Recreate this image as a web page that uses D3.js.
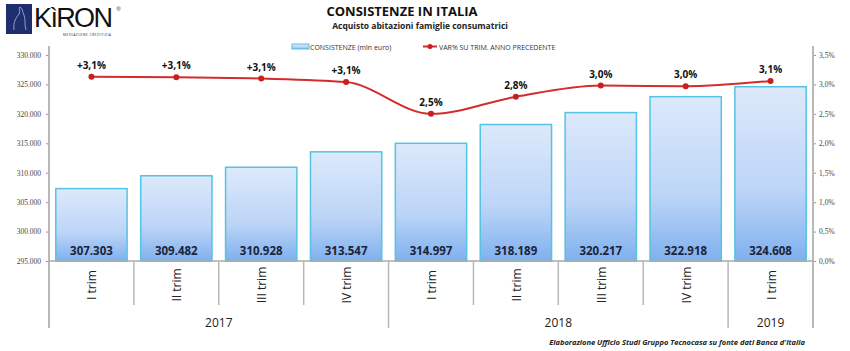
<!DOCTYPE html>
<html>
<head>
<meta charset="utf-8">
<script src="https://cdn.jsdelivr.net/npm/d3@7"></script>
<style>
  body { margin: 0; background: #fff; }
  svg { display: block; font-family: "Open Sans", "Liberation Sans", sans-serif; }
</style>
</head>
<body>
<div id="grafico"></div>
<script>
// dati
const trimestri = ["I trim", "II trim", "III trim", "IV trim", "I trim", "II trim", "III trim", "IV trim", "I trim"];
const anni = ["2017", "2017", "2017", "2017", "2018", "2018", "2018", "2018", "2019"];
const consistenze = [307303, 309482, 310928, 313547, 314997, 318189, 320217, 322918, 324608];
const etichetteConsistenze = ["307.303", "309.482", "310.928", "313.547", "314.997", "318.189", "320.217", "322.918", "324.608"];
const variazioni = [3.13, 3.12, 3.10, 3.04, 2.50, 2.79, 2.98, 2.97, 3.06];
const etichetteVariazioni = ["+3,1%", "+3,1%", "+3,1%", "+3,1%", "2,5%", "2,8%", "3,0%", "3,0%", "3,1%"];
const tickSinistra = [295000, 300000, 305000, 310000, 315000, 320000, 325000, 330000];
const tickDestra = [0, 0.5, 1, 1.5, 2, 2.5, 3, 3.5];

const dim = { sirina: 850, visina: 351, left: 49, right: 813, top: 55, bottom: 261 };

const svg = d3.select("#grafico").append("svg")
  .attr("width", dim.sirina)
  .attr("height", dim.visina);

const x = d3.scaleBand()
  .domain(d3.range(consistenze.length))
  .range([dim.left, dim.right])
  .paddingInner(0.16)
  .paddingOuter(0.08);
const passo = x.step();

const yL = d3.scaleLinear().domain([295000, 330000]).range([dim.bottom, dim.top]);
const yR = d3.scaleLinear().domain([0, 3.5]).range([dim.bottom, dim.top]);

// gradijent stupaca
const defs = svg.append("defs");
const grad = defs.append("linearGradient")
  .attr("id", "gradStupac")
  .attr("x1", 0).attr("y1", 0).attr("x2", 0).attr("y2", 1);
grad.append("stop").attr("offset", "0%").attr("stop-color", "#dde9fb");
grad.append("stop").attr("offset", "60%").attr("stop-color", "#bcd5f7");
grad.append("stop").attr("offset", "100%").attr("stop-color", "#7fb0ee");

// stupci
svg.append("g").selectAll("rect")
  .data(consistenze)
  .enter().append("rect")
  .attr("x", (d, i) => x(i))
  .attr("y", d => yL(d))
  .attr("width", x.bandwidth())
  .attr("height", d => yL(295000) - yL(d))
  .attr("fill", "url(#gradStupac)")
  .attr("stroke", "#55c3e3")
  .attr("stroke-width", 1.5);

svg.append("g").selectAll("text")
  .data(etichetteConsistenze)
  .enter().append("text")
  .attr("x", (d, i) => x(i) + x.bandwidth() / 2)
  .attr("y", dim.bottom - 6)
  .attr("text-anchor", "middle")
  .attr("font-size", 11.5)
  .attr("font-weight", "bold")
  .attr("fill", "#1b2438")
  .text(d => d);

// osi
const osL = svg.append("g")
  .attr("transform", `translate(${dim.left},0)`)
  .call(d3.axisLeft(yL).tickValues(tickSinistra).tickSize(3).tickSizeOuter(0)
    .tickFormat(d => d3.format(",")(d).replace(/,/g, ".")));
osL.select(".domain").remove();
osL.selectAll("line").attr("stroke", "#999");
osL.selectAll("text")
  .attr("font-family", "'Liberation Serif', serif")
  .attr("font-size", 7.5)
  .attr("fill", "#444")
  .attr("x", -8);

const osR = svg.append("g")
  .attr("transform", `translate(${dim.right},0)`)
  .call(d3.axisRight(yR).tickValues(tickDestra).tickSize(3).tickSizeOuter(0)
    .tickFormat(d => d3.format(".1f")(d).replace(".", ",") + "%"));
osR.select(".domain").remove();
osR.selectAll("line").attr("stroke", "#999");
osR.selectAll("text")
  .attr("font-family", "'Liberation Serif', serif")
  .attr("font-size", 7.5)
  .attr("fill", "#444")
  .attr("x", 6);

// linee osi e separatori
const linije = svg.append("g").attr("stroke", "#b8b8b8").attr("stroke-width", 2);
linije.append("line").attr("x1", dim.left).attr("x2", dim.left).attr("y1", 46).attr("y2", 328);
linije.append("line").attr("x1", dim.right).attr("x2", dim.right).attr("y1", 46).attr("y2", 328);
linije.append("line").attr("x1", dim.left).attr("x2", dim.right).attr("y1", dim.bottom).attr("y2", dim.bottom)
  .attr("stroke", "#aaa").attr("stroke-width", 1.5);

d3.range(1, consistenze.length).forEach(i => {
  const nova = anni[i] !== anni[i - 1];
  const xs = dim.left + passo * (i + x.paddingOuter()) - passo * x.paddingInner() / 2;
  linije.append("line")
    .attr("x1", xs).attr("x2", xs)
    .attr("y1", dim.bottom).attr("y2", nova ? 328 : 305)
    .attr("stroke-width", 1.5);
});

// etichette kategorija
svg.append("g").selectAll("text")
  .data(trimestri)
  .enter().append("text")
  .attr("transform", (d, i) => `translate(${x(i) + x.bandwidth() / 2 + 5},285) rotate(-90)`)
  .attr("text-anchor", "middle")
  .attr("font-size", 12)
  .attr("fill", "#222")
  .text(d => d);

const skupine = d3.groups(anni.map((a, i) => ({ a, i })), d => d.a);
svg.append("g").selectAll("text")
  .data(skupine)
  .enter().append("text")
  .attr("x", d => {
    const prvi = d[1][0].i, zadnji = d[1][d[1].length - 1].i;
    return (x(prvi) + x(zadnji) + x.bandwidth()) / 2;
  })
  .attr("y", 327)
  .attr("text-anchor", "middle")
  .attr("font-size", 12)
  .attr("fill", "#222")
  .text(d => d[0]);

// linija varijacija
const linija = d3.line()
  .x((d, i) => x(i) + x.bandwidth() / 2)
  .y(d => yR(d))
  .curve(d3.curveMonotoneX);

svg.append("path")
  .datum(variazioni)
  .attr("d", linija)
  .attr("fill", "none")
  .attr("stroke", "#d42b2b")
  .attr("stroke-width", 2);

svg.append("g").selectAll("circle")
  .data(variazioni)
  .enter().append("circle")
  .attr("cx", (d, i) => x(i) + x.bandwidth() / 2)
  .attr("cy", d => yR(d))
  .attr("r", 3)
  .attr("fill", "#c91f1f");

svg.append("g").selectAll("text")
  .data(variazioni)
  .enter().append("text")
  .attr("x", (d, i) => x(i) + x.bandwidth() / 2)
  .attr("y", d => yR(d) - 8)
  .attr("text-anchor", "middle")
  .attr("font-size", 10)
  .attr("font-weight", "bold")
  .attr("fill", "#111")
  .text((d, i) => etichetteVariazioni[i]);

// naslov
svg.append("text")
  .attr("x", 402).attr("y", 16)
  .attr("text-anchor", "middle")
  .attr("font-size", 13)
  .attr("font-weight", "bold")
  .attr("fill", "#111")
  .text("CONSISTENZE IN ITALIA");
svg.append("text")
  .attr("x", 420).attr("y", 29)
  .attr("text-anchor", "middle")
  .attr("font-size", 8.5)
  .attr("font-weight", "bold")
  .attr("fill", "#222")
  .text("Acquisto abitazioni famiglie consumatrici");

// legenda
const leg = svg.append("g").attr("font-size", 7).attr("fill", "#333");
leg.append("rect").attr("x", 292).attr("y", 44).attr("width", 17).attr("height", 5)
  .attr("fill", "url(#gradStupac)").attr("stroke", "#55c3e3").attr("stroke-width", 1);
leg.append("text").attr("x", 310).attr("y", 49.5).text("CONSISTENZE (mln euro)");
leg.append("line").attr("x1", 423).attr("x2", 437).attr("y1", 46.5).attr("y2", 46.5)
  .attr("stroke", "#d42b2b").attr("stroke-width", 2);
leg.append("circle").attr("cx", 430).attr("cy", 46.5).attr("r", 2.5).attr("fill", "#c91f1f");
leg.append("text").attr("x", 439).attr("y", 49.5).text("VAR% SU TRIM. ANNO PRECEDENTE");

// izvor
svg.append("text")
  .attr("x", 805).attr("y", 345)
  .attr("text-anchor", "end")
  .attr("font-size", 7.5)
  .attr("font-weight", "bold")
  .attr("font-style", "italic")
  .attr("fill", "#222")
  .text("Elaborazione Ufficio Studi Gruppo Tecnocasa su fonte dati Banca d'Italia");

// logo
const logo = svg.append("g");
logo.append("rect").attr("x", 6).attr("y", 4).attr("width", 26).attr("height", 30).attr("fill", "#1f2f6e");
logo.append("path")
  .attr("d", "M14,30 C13,22 16,18 19,14 C21,11 18,8 20,7 C23,8 22,12 24,15 C26,19 24,24 26,30")
  .attr("fill", "none").attr("stroke", "#8fa0d0").attr("stroke-width", 1);
logo.append("text").attr("x", 34).attr("y", 27)
  .attr("font-size", 27).attr("font-family", "'Liberation Sans', sans-serif")
  .attr("fill", "#111").attr("textLength", 79).text("KìRON");
logo.append("text").attr("x", 116).attr("y", 11)
  .attr("font-size", 6).attr("fill", "#555").text("®");
logo.append("text").attr("x", 63).attr("y", 35.5)
  .attr("font-size", 3.5).attr("fill", "#333").attr("textLength", 48).text("MEDIAZIONE CREDITIZIA");
</script>
</body>
</html>
